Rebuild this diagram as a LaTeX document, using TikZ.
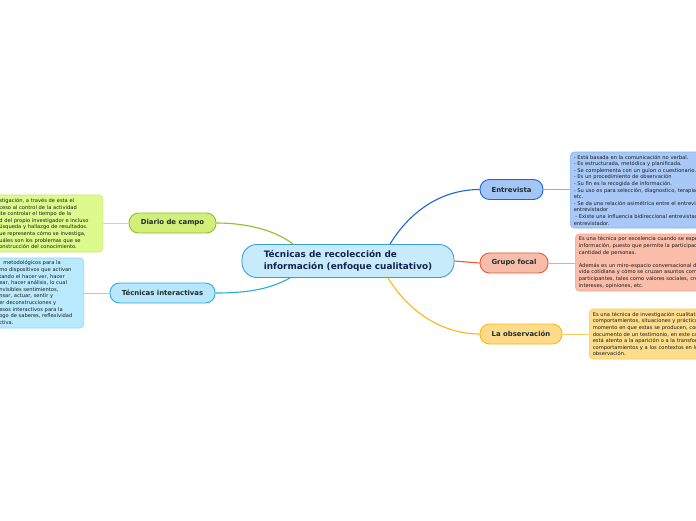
\documentclass[tikz,border=0pt]{standalone}
\usepackage{fontspec}
\setmainfont{DejaVu Sans}
\usetikzlibrary{calc}
\definecolor{cfill}{HTML}{C8EBFB}
\definecolor{cline}{HTML}{3B9EDB}
\definecolor{ctext}{HTML}{10244F}
\definecolor{labtxt}{HTML}{1E2E2A}
\definecolor{notetxt}{HTML}{1A1A1A}
\definecolor{gfill}{HTML}{D4EE7C}
\definecolor{gline}{HTML}{8DC21F}
\definecolor{gnote}{HTML}{DCFB8C}
\definecolor{gnline}{HTML}{C5E86A}
\definecolor{bfill}{HTML}{B8E6FA}
\definecolor{bline}{HTML}{2AAAE2}
\definecolor{bnote}{HTML}{B9E9FC}
\definecolor{bnline}{HTML}{8FD6F6}
\definecolor{efill}{HTML}{A3C6F7}
\definecolor{eline}{HTML}{1A66D6}
\definecolor{enote}{HTML}{A8C9F7}
\definecolor{enline}{HTML}{86B0F0}
\definecolor{rfill}{HTML}{F7BDAA}
\definecolor{rline}{HTML}{E85A30}
\definecolor{rnote}{HTML}{F9BDA9}
\definecolor{rnline}{HTML}{F3A590}
\definecolor{ofill}{HTML}{FDDB8B}
\definecolor{oline}{HTML}{F6BA12}
\definecolor{onote}{HTML}{FDDC8C}
\definecolor{online}{HTML}{F7CD5A}
\newcommand\cutpre[1]{\leavevmode\llap{#1}}
\begin{document}
\begin{tikzpicture}[x=1pt,y=-1pt,
  topic/.style={draw, line width=0.9pt, rounded corners=9.5pt, minimum height=20pt,
    inner sep=0pt, font=\fontsize{6.9}{8}\selectfont\bfseries, text=labtxt},
  note/.style={draw, line width=0.6pt, rounded corners=4pt, align=left,
    inner xsep=3.5pt, inner ysep=2.5pt, font=\fontsize{5.15}{6.6}\selectfont,
    text=notetxt, anchor=west},
  link/.style={line width=1.1pt},
  thinlink/.style={line width=0.7pt}]
\useasboundingbox (0,0) rectangle (696,520);
\fill[white] (0,0) rectangle (696,520);
\clip (0,0) rectangle (696,520);

% central node
\node[draw=cline, fill=cfill, line width=0.9pt, rounded corners=15pt,
  minimum width=212pt, minimum height=33pt, align=left, text=ctext,
  font=\fontsize{8.9}{12.2}\selectfont\bfseries] (c) at (348,261)
  {Técnicas de recolección de\\información (enfoque cualitativo)};

% topic nodes
\node[topic, draw=gline, fill=gfill, minimum width=87pt] (dn) at (172.5,223) {Diario de campo};
\node[topic, draw=bline, fill=bfill, minimum width=105pt] (tn) at (162.5,293) {Técnicas interactivas};
\node[topic, draw=eline, fill=efill, minimum width=63pt] (en) at (511.5,189.5) {Entrevista};
\node[topic, draw=rline, fill=rfill, minimum width=68pt] (gn) at (514,263) {Grupo focal};
\node[topic, draw=oline, fill=ofill, minimum width=82pt] (on) at (521,334) {La observación};

% note boxes
\node[note, draw=gnline, fill=gnote, text width=100pt, minimum height=57pt] (dt) at (-4.5,223.5) {%
\cutpre{En la inve}stigación, a través de esta el\\
\cutpre{Se tiene ac}ceso al control de la actividad\\
\cutpre{Nos perm}ite controlar el tiempo de la\\
\cutpre{y la activida}d del propio investigador e incluso\\
\cutpre{en la b}úsqueda y hallazgo de resultados.\\
\cutpre{Es lo q}ue representa cómo se investiga,\\
\cutpre{así como c}uáles son los problemas que se\\
\cutpre{en la c}onstrucción del conocimiento.};

\node[note, draw=bnline, fill=bnote, text width=81pt, minimum height=70pt] (tt) at (-4.5,293) {%
\cutpre{Son recursos}\hspace{4pt}metodológicos para la\\
\cutpre{intervención co}mo dispositivos que activan\\
\cutpre{facili}tando el hacer ver, hacer\\
\cutpre{hablar, hacer recr}ear, hacer análisis, lo cual\\
\cutpre{aspectos i}nvisibles sentimientos,\\
\cutpre{formas de pe}nsar, actuar, sentir y\\
\cutpre{permiten hac}er deconstrucciones y\\
\cutpre{proc}esos interactivos para la\\
\cutpre{el diál}ogo de saberes, reflexividad\\
\cutpre{y construcción cole}ctiva.};

\node[note, draw=enline, fill=enote, text width=185pt, minimum height=76pt] (et) at (570,190) {%
- Está basada en la comunicación no verbal.\\
- Es estructurada, metódica y planificada.\\
- Se complementa con un guion o cuestionario.\\
- Es un procedimiento de observación\\
- Su fin es la recogida de información.\\
- Su uso es para selección, diagnostico, terapia,\\
etc.\\
- Se da una relación asimétrica entre el entrevistado y el\\
entrevistador\\
\hspace{1.5pt}- Existe una influencia bidireccional entrevistado y\\
entrevistador.};

\node[note, draw=rnline, fill=rnote, text width=195pt, minimum height=57pt] (gt) at (575,262.5) {%
Es una técnica por excelencia cuando se espera obtener\\
información, puesto que permite la participación de una gran\\
cantidad de personas.\\
\mbox{}\\
Además es un miro–espacio conversacional de la\\
vida cotidiana y cómo se cruzan asuntos comunes de los\\
participantes, tales como valores sociales, creencias,\\
intereses, opiniones, etc.};

\node[note, draw=online, fill=onote, text width=195pt, minimum height=50pt] (ot) at (589,334) {%
Es una técnica de investigación cualitativa que consiste en\\
comportamientos, situaciones y prácticas sociales en el\\
momento en que estas se producen, como\\
documento de un testimonio, en este caso el investigador\\
está atento a la aparición o a la transformación de\\
comportamientos y a los contextos en los que se da la\\
observación.};

% main connectors
\draw[link, gline] ([xshift=-55pt]c.north) .. controls ($([xshift=-55pt]c.north)+(-18,-14)$) and ($(dn.east)+(30,0)$) .. (dn.east);
\draw[link, bline] ([xshift=-58pt]c.south) .. controls ($([xshift=-58pt]c.south)+(-22,12)$) and ($(tn.east)+(30,0)$) .. (tn.east);
\draw[link, eline] ([xshift=42pt]c.north) .. controls ($([xshift=42pt]c.north)+(22,-36)$) and ($(en.west)+(-35,0)$) .. (en.west);
\draw[link, rline] (c.east) -- (gn.west);
\draw[link, oline] ([xshift=40pt]c.south) .. controls ($([xshift=40pt]c.south)+(22,36)$) and ($(on.west)+(-35,0)$) .. (on.west);

% note connectors
\draw[thinlink, gnline] (dn.west) -- (dn.west -| dt.east);
\draw[thinlink, bnline] (tn.west) -- (tn.west -| tt.east);
\draw[thinlink, enline] (en.east) -- (en.east -| et.west);
\draw[thinlink, rnline] (gn.east) -- (gn.east -| gt.west);
\draw[thinlink, online] (on.east) -- (on.east -| ot.west);
\end{tikzpicture}
\end{document}
